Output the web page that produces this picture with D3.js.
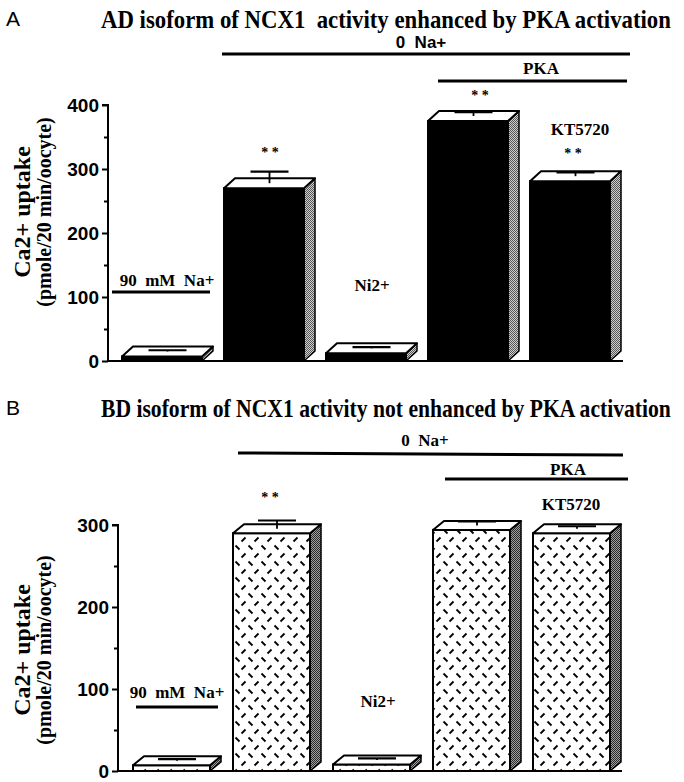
<!DOCTYPE html>
<html><head><meta charset="utf-8">
<script src="https://cdn.jsdelivr.net/npm/d3@7"></script>
<style>html,body{margin:0;padding:0;background:#fff}svg{display:block}text{white-space:pre}</style>
</head><body>
<svg id="c" width="684" height="782"></svg>
<script>
// ---- data ----
const categories = ["90 mM Na+", "0 Na+", "Ni2+", "PKA", "KT5720"];
const valuesA = [7, 270, 12, 375, 281];
const errorsA = [2, 18, 2, 6, 6];
const valuesB = [7, 290, 8, 294, 290];
const errorsB = [2, 10, 2, 5, 3];
const ticksA = [0, 100, 200, 300, 400];
const minorA = [50, 150, 250, 350];
const ticksB = [0, 100, 200, 300];
const minorB = [50, 150, 250];
const titleA = "AD isoform of NCX1  activity enhanced by PKA activation";
const titleB = "BD isoform of NCX1 activity not enhanced by PKA activation";

const svg = d3.select("#c");
const defs = svg.append("defs");
function dither(id, a, b) {
  const p = defs.append("pattern").attr("id", id).attr("width", 2).attr("height", 2).attr("patternUnits", "userSpaceOnUse");
  p.append("rect").attr("width", 2).attr("height", 2).attr("fill", b);
  p.append("rect").attr("width", 1).attr("height", 1).attr("fill", a);
  p.append("rect").attr("x", 1).attr("y", 1).attr("width", 1).attr("height", 1).attr("fill", a);
}
dither("sideA", "#555", "#cfcfcf");
dither("sideB", "#2a2a2a", "#a0a0a0");
const hp = defs.append("pattern").attr("id", "hatch").attr("width", 13).attr("height", 16).attr("patternUnits", "userSpaceOnUse");
hp.append("rect").attr("width", 13).attr("height", 16).attr("fill", "#fff");
hp.append("line").attr("x1", 1.5).attr("y1", 1.5).attr("x2", 5.5).attr("y2", 5.5).attr("stroke", "#000").attr("stroke-width", 1.8);
hp.append("line").attr("x1", 7.5).attr("y1", 13.5).attr("x2", 11.5).attr("y2", 9.5).attr("stroke", "#000").attr("stroke-width", 1.8);

const serif = "'Liberation Serif','Times New Roman',serif";
const sans = "'Liberation Sans',Arial,sans-serif";

function panel(cfg) {
  const g = svg.append("g");
  const x = d3.scaleBand().domain(d3.range(categories.length)).range(cfg.xRange).paddingInner(cfg.padIn).paddingOuter(0);
  const y = d3.scaleLinear().domain([0, cfg.max]).range(cfg.yRange);
  const w = x.bandwidth(), dx = cfg.dx, dy = cfg.dy;

  g.append("text").attr("x", 6).attr("y", cfg.titleY - 2).attr("font-family", sans).attr("font-size", 21).text(cfg.letter);
  const tg = g.append("g");
  const tt = tg.append("text").attr("x", 0).attr("y", 0).attr("font-family", serif).attr("font-weight", "bold")
    .attr("font-size", 26).text(cfg.title);
  const len = tt.node().getComputedTextLength();
  tg.attr("transform", `translate(101,${cfg.titleY}) scale(${570 / len},1)`);

  const ly = g.append("g").attr("transform", `translate(${cfg.labX},${cfg.labY}) rotate(-90)`);
  ly.append("text").attr("text-anchor", "middle").attr("y", 0).attr("font-family", serif).attr("font-weight", "bold")
    .attr("font-size", 24).text("Ca2+ uptake");
  ly.append("text").attr("text-anchor", "middle").attr("y", 21).attr("font-family", serif).attr("font-weight", "bold")
    .attr("font-size", 20).text("(pmole/20 min/oocyte)");

  categories.forEach((c, i) => {
    const v = cfg.values[i], e = cfg.errors[i];
    const x0 = x(i), y0 = y(0), y1 = y(v);
    const bg = g.append("g");
    bg.append("polygon").attr("points", [[x0 + w, y1], [x0 + w + dx, y1 - dy], [x0 + w + dx, y0 - dy], [x0 + w, y0]].join(" "))
      .attr("fill", `url(#${cfg.side})`).attr("stroke", "#000").attr("stroke-width", 1.5).attr("stroke-linejoin", "round");
    bg.append("rect").attr("x", x0).attr("y", y1).attr("width", w).attr("height", y0 - y1)
      .attr("fill", cfg.front).attr("stroke", "#000").attr("stroke-width", 2);
    bg.append("polygon").attr("points", [[x0, y1], [x0 + dx, y1 - dy], [x0 + w + dx, y1 - dy], [x0 + w, y1]].join(" "))
      .attr("fill", "#fff").attr("stroke", "#000").attr("stroke-width", 2).attr("stroke-linejoin", "round");
    const cx = x0 + w / 2 + dx / 2;
    const yb = y(v) - dy / 2, yt = y(v + e) - dy / 2;
    bg.append("line").attr("x1", cx).attr("x2", cx).attr("y1", yb).attr("y2", yt).attr("stroke", "#000").attr("stroke-width", 1.8);
    bg.append("line").attr("x1", cx - 19).attr("x2", cx + 19).attr("y1", yt).attr("y2", yt).attr("stroke", "#000").attr("stroke-width", 2.2);
  });

  const axis = d3.axisLeft(y).tickValues(cfg.ticks).tickSize(6).tickPadding(3).tickFormat(d3.format("d"));
  const ag = g.append("g").attr("transform", `translate(${cfg.axisX},0)`).call(axis);
  ag.select(".domain").attr("d", `M-6,${y(cfg.max)}H0V${y(0)}`).attr("stroke-width", 2);
  ag.selectAll(".tick line").attr("stroke-width", 2);
  ag.selectAll("text").attr("font-family", sans).attr("font-weight", "bold").attr("font-size", 19).attr("fill", "#000");
  const mg = g.append("g").attr("transform", `translate(${cfg.axisX},0)`).call(d3.axisLeft(y).tickValues(cfg.minor).tickSize(4).tickFormat(""));
  mg.select(".domain").remove();
  mg.selectAll(".tick line").attr("stroke-width", 2);
  g.append("line").attr("x1", cfg.axisX).attr("x2", cfg.baseEnd).attr("y1", y(0)).attr("y2", y(0)).attr("stroke", "#000").attr("stroke-width", 2);

  cfg.lines.forEach(l => g.append("line").attr("x1", l[0]).attr("y1", l[1]).attr("x2", l[2]).attr("y2", l[3])
    .attr("stroke", "#000").attr("stroke-width", 3));
  cfg.labels.forEach(t => g.append("text").attr("x", t.x).attr("y", t.y).attr("text-anchor", "middle")
    .attr("font-family", t.sans ? sans : serif).attr("font-weight", "bold").attr("font-size", t.size || 17)
    .attr("fill", "#000").text(t.text));
}

panel({
  letter: "A", title: titleA, titleY: 28, values: valuesA, errors: errorsA, max: 400,
  ticks: ticksA, minor: minorA, xRange: [122, 610], padIn: 0.2157, yRange: [361, 105],
  dx: 11, dy: 10, axisX: 108, baseEnd: 623, front: "#000", side: "sideA",
  labX: 30, labY: 212,
  lines: [[222, 54, 630, 54], [438, 81, 627, 81], [112, 292, 210, 292]],
  labels: [
    {text: "0  Na+", x: 421, y: 48, sans: true, size: 17},
    {text: "PKA", x: 541, y: 74, size: 17},
    {text: "* *", x: 480, y: 100, size: 14},
    {text: "* *", x: 270, y: 157, size: 14},
    {text: "KT5720", x: 580, y: 135, size: 17},
    {text: "* *", x: 573, y: 158, size: 14},
    {text: "90  mM  Na+", x: 167, y: 286, size: 17},
    {text: "Ni2+", x: 372, y: 291, size: 17}
  ]
});

panel({
  letter: "B", title: titleB, titleY: 417, values: valuesB, errors: errorsB, max: 300,
  ticks: ticksB, minor: minorB, xRange: [133, 610], padIn: 0.23, yRange: [771, 525],
  dx: 11, dy: 9, axisX: 118, baseEnd: 622, front: "url(#hatch)", side: "sideB",
  labX: 30, labY: 650,
  lines: [[238, 453, 623, 455], [445, 479, 628, 479], [136, 707, 218, 707]],
  labels: [
    {text: "0  Na+", x: 425, y: 446, size: 17},
    {text: "PKA", x: 568, y: 475, size: 17},
    {text: "* *", x: 270, y: 502, size: 14},
    {text: "KT5720", x: 571, y: 510, size: 17},
    {text: "90  mM  Na+", x: 177, y: 698, size: 17},
    {text: "Ni2+", x: 378, y: 707, size: 17}
  ]
});
</script>
</body></html>
